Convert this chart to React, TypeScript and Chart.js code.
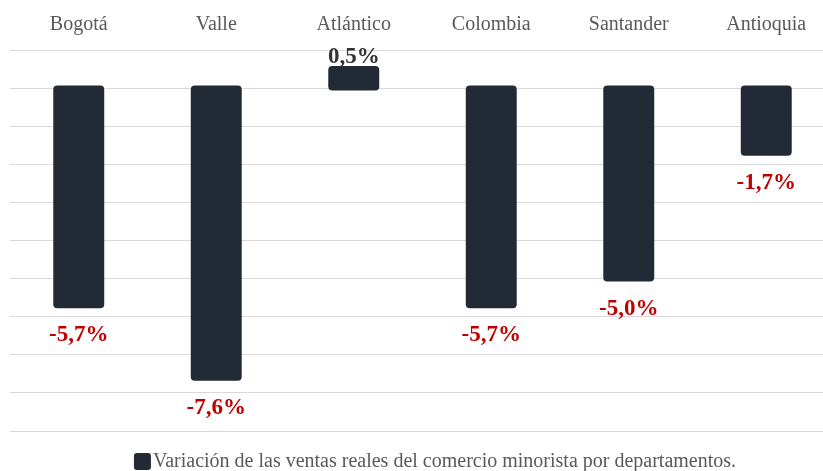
import React, { useEffect, useRef } from "react";
import { Chart, registerables } from "chart.js";

Chart.register(...registerables);

const categories = ["Bogotá", "Valle", "Atlántico", "Colombia", "Santander", "Antioquia"];
const values = [-5.7, -7.6, 0.5, -5.7, -5.0, -1.7];
const valueLabels = ["-5,7%", "-7,6%", "0,5%", "-5,7%", "-5,0%", "-1,7%"];
const seriesName = "Variación de las ventas reales del comercio minorista por departamentos.";

const BAR_COLOR = "#222A35";
const TEXT_GRAY = "#595959";
const NEG_COLOR = "#C00000";
const POS_COLOR = "#333333";

const labelPlugin = {
  id: "valueLabels",
  afterDatasetsDraw(chart: any) {
    const ctx = chart.ctx;
    const meta = chart.getDatasetMeta(0);
    ctx.save();
    ctx.font = "bold 23px 'Liberation Serif', 'Times New Roman', serif";
    ctx.textAlign = "center";
    ctx.textBaseline = "alphabetic";
    meta.data.forEach((el: any, i: number) => {
      const v = values[i];
      if (v < 0) {
        ctx.fillStyle = NEG_COLOR;
        ctx.fillText(valueLabels[i], el.x, el.y + 36);
      } else {
        ctx.fillStyle = POS_COLOR;
        ctx.fillText(valueLabels[i], el.x, el.y - 6.5);
      }
    });
    ctx.restore();
  },
};

const legendPlugin = {
  id: "customLegend",
  afterDraw(chart: any) {
    const ctx = chart.ctx;
    ctx.save();
    ctx.font = "20px 'Liberation Serif', 'Times New Roman', serif";
    const tw = ctx.measureText(seriesName).width;
    const box = 17;
    const gap = 2;
    const total = box + gap + tw;
    const cx = 435;
    const x0 = cx - total / 2;
    const yBase = 467;
    ctx.fillStyle = BAR_COLOR;
    ctx.beginPath();
    (ctx as any).roundRect(x0, 453, box, box, 3);
    ctx.fill();
    ctx.fillStyle = TEXT_GRAY;
    ctx.textAlign = "left";
    ctx.textBaseline = "alphabetic";
    ctx.fillText(seriesName, x0 + box + gap, yBase);
    ctx.restore();
  },
};

export default function App() {
  const canvasRef = useRef<HTMLCanvasElement | null>(null);

  useEffect(() => {
    if (!canvasRef.current) return;
    const chart = new Chart(canvasRef.current, {
      type: "bar",
      data: {
        labels: categories,
        datasets: [
          {
            label: seriesName,
            data: values,
            backgroundColor: BAR_COLOR,
            borderWidth: 0,
            borderRadius: 4,
            borderSkipped: false,
            inflateAmount: 3,
            barPercentage: 0.327,
            categoryPercentage: 1,
          } as any,
        ],
      },
      options: {
        responsive: false,
        animation: false,
        devicePixelRatio: 1,
        layout: { padding: { left: 10, right: 5, top: 0, bottom: 40 } },
        plugins: {
          legend: { display: false },
          tooltip: { enabled: false },
        },
        scales: {
          x: {
            position: "top",
            grid: { display: false, drawTicks: false },
            border: { display: false },
            ticks: {
              color: TEXT_GRAY,
              padding: 13,
              font: { family: "'Liberation Serif', 'Times New Roman', serif", size: 20 },
            },
          },
          y: {
            min: -9,
            max: 1,
            grid: { color: "#D9D9D9", lineWidth: 1, drawTicks: false },
            border: { display: false },
            ticks: { display: false, stepSize: 1 },
          },
        },
      },
      plugins: [labelPlugin, legendPlugin],
    });
    return () => chart.destroy();
  }, []);

  return (
    <div
      style={{
        position: "absolute",
        left: 0,
        top: 0,
        width: 823,
        height: 471,
        overflow: "hidden",
        background: "#fff",
      }}
    >
      <canvas ref={canvasRef} width={840} height={471} style={{ display: "block" }} />
    </div>
  );
}
